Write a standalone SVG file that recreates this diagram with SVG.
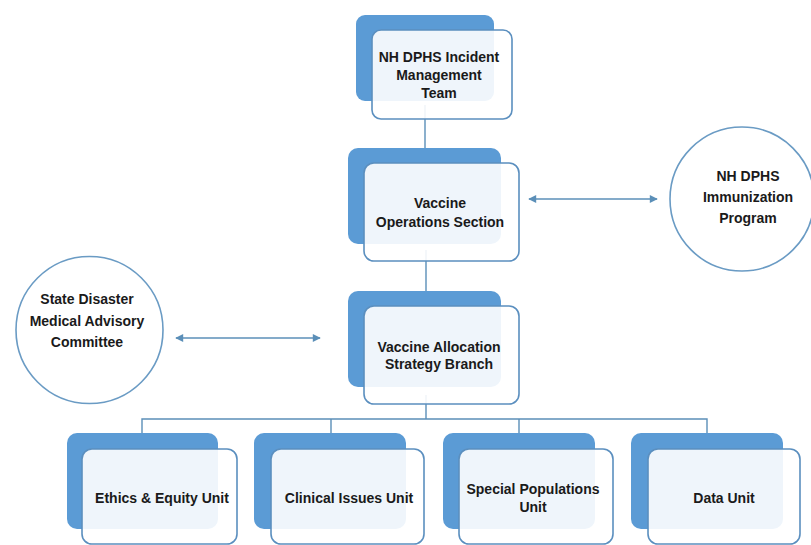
<svg xmlns="http://www.w3.org/2000/svg" width="811" height="545" viewBox="0 0 811 545">
<defs>
<style>
.bk{fill:#5b9bd5;}
.fr{fill:#ffffff;fill-opacity:0.9;stroke:#5b8fbf;stroke-width:1.6;}
.ln{fill:none;stroke:#5b8fb8;stroke-width:1.4;}
.ci{fill:#ffffff;stroke:#6a9bc4;stroke-width:1.6;}
.t{font-family:"Liberation Sans",Arial,sans-serif;font-weight:bold;font-size:14px;fill:#1a1a1a;text-anchor:middle;}
</style>
<marker id="ah" viewBox="0 0 10 10" refX="9" refY="5" markerWidth="9" markerHeight="8" markerUnits="userSpaceOnUse" orient="auto-start-reverse">
<path d="M0,0 L10,5 L0,10 z" fill="#5b8fb8"/>
</marker>
</defs>
<rect width="811" height="545" fill="#ffffff"/>
<g id="connectors">
<line class="ln" x1="425" y1="105" x2="425" y2="150"/>
<line class="ln" x1="426" y1="250" x2="426" y2="292"/>
<line class="ln" x1="426" y1="395" x2="426" y2="419"/>
<polyline class="ln" points="142,433 142,419 707,419 707,433"/>
<line class="ln" x1="331" y1="419" x2="331" y2="433"/>
<line class="ln" x1="519" y1="419" x2="519" y2="433"/>
<line class="ln" x1="529" y1="199" x2="657" y2="199" marker-start="url(#ah)" marker-end="url(#ah)"/>
<line class="ln" x1="176" y1="338" x2="320" y2="338" marker-start="url(#ah)" marker-end="url(#ah)"/>
</g>
<g id="n-imt">
<rect class="bk" x="356" y="15" width="138" height="86" rx="9"/>
<rect class="fr" x="372" y="30" width="140" height="89" rx="9"/>
<text class="t" x="439" y="62">NH DPHS Incident</text>
<text class="t" x="439" y="80">Management</text>
<text class="t" x="439" y="98">Team</text>
</g>
<g id="n-vos">
<rect class="bk" x="348" y="148" width="153" height="96" rx="10"/>
<rect class="fr" x="364" y="163" width="155" height="98" rx="10"/>
<text class="t" x="440" y="208">Vaccine</text>
<text class="t" x="440" y="227">Operations Section</text>
</g>
<g id="n-vasb">
<rect class="bk" x="348" y="291" width="153" height="96" rx="10"/>
<rect class="fr" x="364" y="306" width="155" height="98" rx="10"/>
<text class="t" x="439" y="352">Vaccine Allocation</text>
<text class="t" x="439" y="369">Strategy Branch</text>
</g>
<g id="n-imm">
<circle class="ci" cx="742" cy="199" r="72"/>
<text class="t" x="748" y="181">NH DPHS</text>
<text class="t" x="748" y="202">Immunization</text>
<text class="t" x="748" y="223">Program</text>
</g>
<g id="n-sdmac">
<circle class="ci" cx="89.5" cy="330" r="73.5"/>
<text class="t" x="87" y="304">State Disaster</text>
<text class="t" x="87" y="326">Medical Advisory</text>
<text class="t" x="87" y="347">Committee</text>
</g>
<g id="n-ethics">
<rect class="bk" x="67" y="433" width="151" height="96" rx="10"/>
<rect class="fr" x="82" y="449" width="155" height="95" rx="10"/>
<text class="t" x="162" y="503">Ethics &amp; Equity Unit</text>
</g>
<g id="n-clinical">
<rect class="bk" x="254" y="433" width="152" height="96" rx="10"/>
<rect class="fr" x="271" y="449" width="153" height="95" rx="10"/>
<text class="t" x="349" y="503">Clinical Issues Unit</text>
</g>
<g id="n-special">
<rect class="bk" x="443" y="433" width="152" height="96" rx="10"/>
<rect class="fr" x="459" y="449" width="154" height="95" rx="10"/>
<text class="t" x="533" y="494">Special Populations</text>
<text class="t" x="533" y="512">Unit</text>
</g>
<g id="n-data">
<rect class="bk" x="631" y="433" width="152" height="96" rx="10"/>
<rect class="fr" x="648" y="449" width="152" height="95" rx="10"/>
<text class="t" x="724" y="503">Data Unit</text>
</g>
</svg>
